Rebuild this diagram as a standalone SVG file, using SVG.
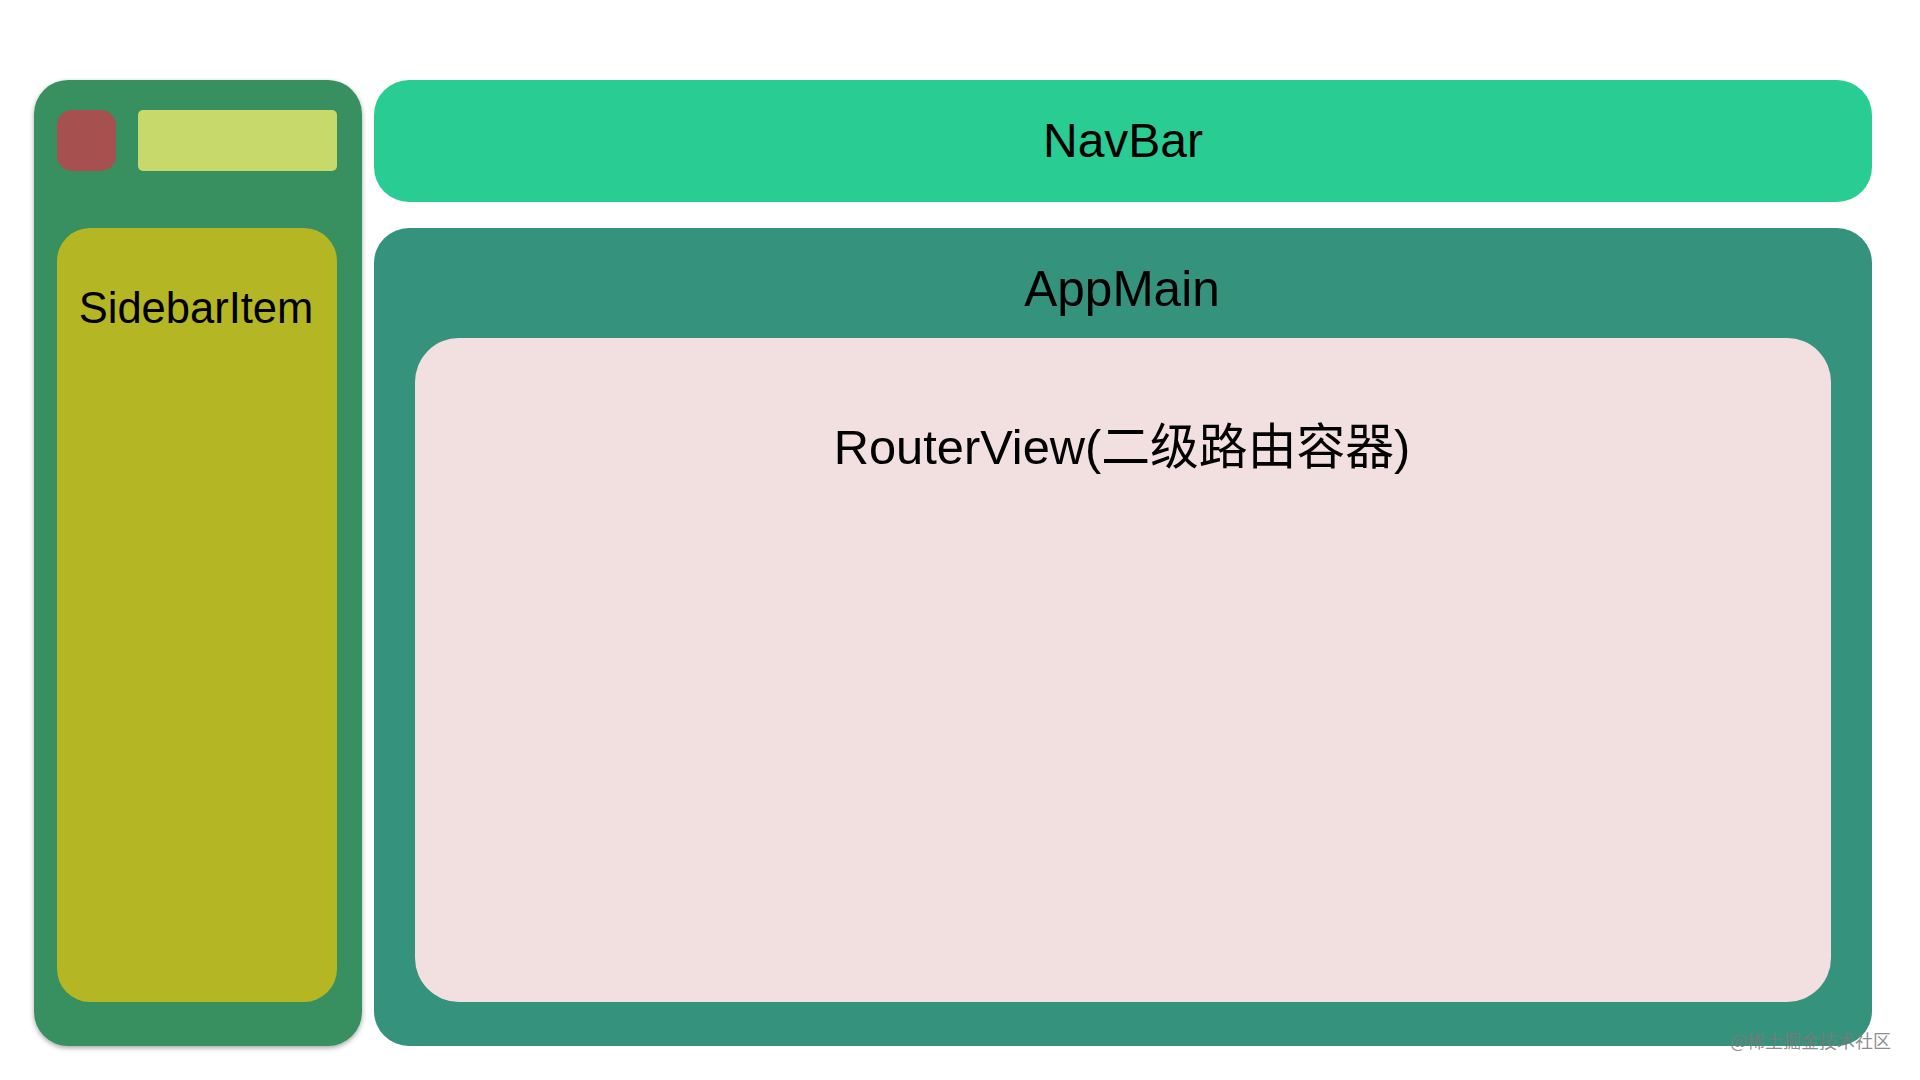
<svg xmlns="http://www.w3.org/2000/svg" width="1920" height="1080" viewBox="0 0 1920 1080">
<defs>
<filter id="sh" x="-10%" y="-5%" width="120%" height="110%">
<feDropShadow dx="0" dy="2" stdDeviation="2.5" flood-color="#000" flood-opacity="0.35"/>
</filter>
</defs>
<style>
.lbl{font-family:"Liberation Sans","Noto Sans CJK SC",sans-serif;fill:#000;text-anchor:middle}
.wm{font-family:"Noto Sans CJK SC","Liberation Sans",sans-serif;font-size:18px;fill:#7a7a7a;fill-opacity:0.85}
</style>
<rect width="1920" height="1080" fill="#fff"/>
<g id="sidebar">
<rect x="34" y="80" width="328" height="966" rx="34" fill="#388F5E" filter="url(#sh)"/>
</g>
<g id="logo">
<rect x="57" y="110" width="59" height="61" rx="15" fill="#A65050"/>
</g>
<g id="title-bar">
<rect x="138" y="110" width="199" height="61" rx="5" fill="#C6D96A"/>
</g>
<g id="sidebar-item">
<rect x="57" y="228" width="280" height="774" rx="33" fill="#B4B723"/>
<text class="lbl" x="196" y="323" font-size="43.5">SidebarItem</text>
</g>
<g id="navbar">
<rect x="374" y="80" width="1498" height="122" rx="35" fill="#29CD94"/>
<text class="lbl" x="1123" y="157" font-size="48">NavBar</text>
</g>
<g id="app-main">
<rect x="374" y="228" width="1498" height="818" rx="35" fill="#35937D"/>
<text class="lbl" x="1122" y="306" font-size="49.5">AppMain</text>
</g>
<g id="router-view">
<rect x="415" y="338" width="1416" height="664" rx="44" fill="#F2E0E1"/>
<text class="lbl" x="1122" y="464" font-size="48.8">RouterView(二级路由容器)</text>
</g>
<g id="connectors"></g>
<text class="wm" x="1730" y="1048">@稀土掘金技术社区</text>
</svg>
